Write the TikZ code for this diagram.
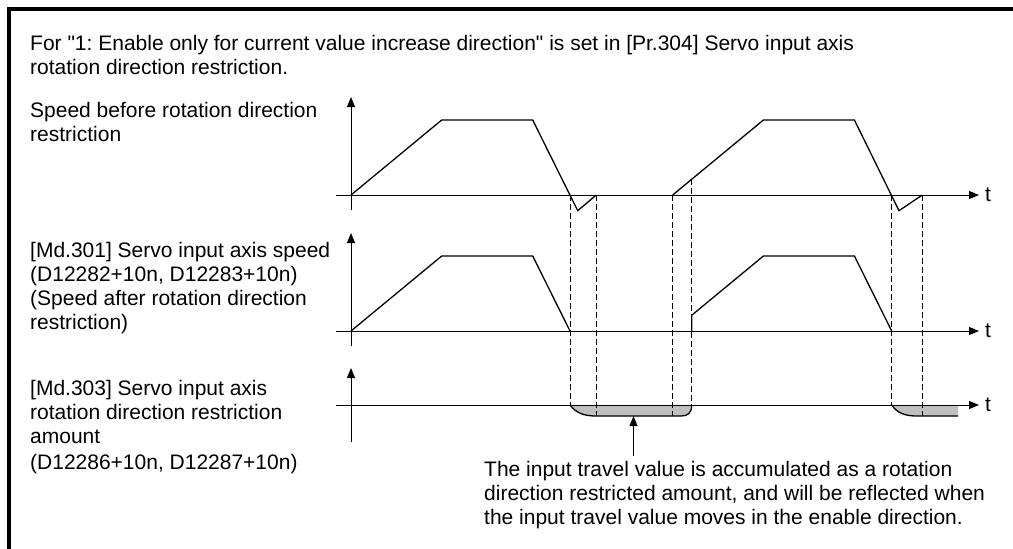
\documentclass[tikz,border=0pt]{standalone}
\usepackage{fontspec}
\setmainfont{Liberation Sans}
\usetikzlibrary{arrows.meta}
\frenchspacing
\begin{document}
\begin{tikzpicture}[x=1pt,y=-1pt,
  lbl/.style={font=\fontsize{21}{24}\selectfont, align=left, anchor=north west, inner sep=0pt},
  tl/.style={font=\fontsize{21}{24}\selectfont, anchor=west, inner sep=0pt},
  axis/.style={line width=1pt, -{Triangle[length=10pt,width=8pt]}},
  curve/.style={line width=1.3pt, line join=miter},
  guide/.style={line width=1pt, dash pattern=on 6pt off 3pt},
  shadefill/.style={fill=black!25, draw=none},
  shadeline/.style={line width=1.3pt}
]
\useasboundingbox (0,0) rectangle (1013,549);
% frame
\draw[line width=4pt] (9,549) -- (9,9) -- (1013,9);

% texts
\node[lbl] (head) at (30,33.2) {\strut For \textquotedbl 1: Enable only for current value increase direction\textquotedbl{} is set in [Pr.304] Servo input axis\\rotation direction restriction.};
\node[lbl] (lab1) at (30,100.2) {\strut Speed before rotation direction\\restriction};
\node[lbl] (lab2) at (30,240.9) {\strut [Md.301] Servo input axis speed\\(D12282+10n, D12283+10n)\\(Speed after rotation direction\\restriction)};
\node[lbl] (lab3) at (30,378.2) {\strut [Md.303] Servo input axis\\rotation direction restriction\\amount\\[2pt](D12286+10n, D12287+10n)};
\node[lbl] (note) at (484,459.2) {\strut The input travel value is accumulated as a rotation\\direction restricted amount, and will be reflected when\\the input travel value moves in the enable direction.};

% shaded restriction amount
\fill[shadefill] (570,405) .. controls (576,413) and (584,416) .. (596,416) -- (681,416) .. controls (688,416) and (691.7,413) .. (691.7,405) -- cycle;
\draw[shadeline] (570,405) .. controls (576,413) and (584,416) .. (596,416) -- (681,416) .. controls (688,416) and (691.7,413) .. (691.7,405);
\fill[shadefill] (891.7,405) .. controls (897,413) and (905,416) .. (917,416) -- (958,416) -- (958,405) -- cycle;
\draw[shadeline] (891.7,405) .. controls (897,413) and (905,416) .. (917,416) -- (958,416);

% dashed guides
\draw[guide] (570,195) -- (570,405);
\draw[guide] (596.3,195) -- (596.3,416);
\draw[guide] (672.7,195) -- (672.7,416);
\draw[guide] (691.7,179.3) -- (691.7,405);
\draw[guide] (891.7,195) -- (891.7,405);
\draw[guide] (922.3,195) -- (922.3,416);

% axes top
\coordinate (a1s) at (336,195); \coordinate (a1e) at (979,195);
\coordinate (v1s) at (351,210); \coordinate (v1e) at (351,97);
\draw[axis] (a1s) -- (a1e);
\draw[axis] (v1s) -- (v1e);
\node[tl] (t1) at (985,195) {t};
% axes middle
\coordinate (a2s) at (336,331); \coordinate (a2e) at (979,331);
\coordinate (v2s) at (351,346); \coordinate (v2e) at (351,233);
\draw[axis] (a2s) -- (a2e);
\draw[axis] (v2s) -- (v2e);
\node[tl] (t2) at (985,331) {t};
% axes bottom
\coordinate (a3s) at (336,405); \coordinate (a3e) at (979,405);
\coordinate (v3s) at (351,442); \coordinate (v3e) at (351,368);
\draw[axis] (a3s) -- (a3e);
\draw[axis] (v3s) -- (v3e);
\node[tl] (t3) at (985,405) {t};

% curves
\draw[curve] (351,195) -- (441.7,120) -- (532.7,120) -- (577.7,210.7) -- (596.3,195);
\draw[curve] (672.7,195) -- (763.4,120) -- (854.4,120) -- (899,210.7) -- (922.3,195);
\draw[curve] (351,331) -- (441.7,256) -- (532.7,256) -- (570,331);
\draw[curve] (691.7,331) -- (691.7,315.3) -- (763.4,256) -- (854.4,256) -- (891.7,331);

% annotation arrow
\coordinate (arrS) at (633.5,456);
\coordinate (arrE) at (633.5,416);
\draw[axis] (arrS) -- (arrE);
\end{tikzpicture}
\end{document}
